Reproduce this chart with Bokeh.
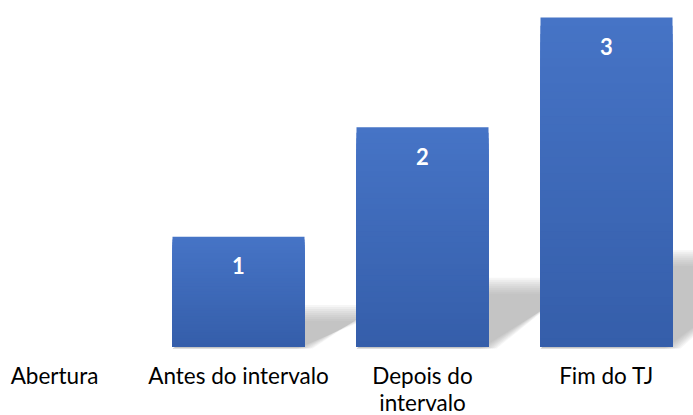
import numpy as np
from bokeh.plotting import figure
from bokeh.core.properties import value
from bokeh.embed import file_html
from bokeh.resources import INLINE

# ---- data ----
categories = ["Abertura", "Antes do intervalo", "Depois do\nintervalo", "Fim do TJ"]
values = [0, 1, 2, 3]
value_labels = ["", "1", "2", "3"]

# ---- geometry (pixels on the canvas) ----
W, H = 693, 415
PX_PER_CAT = 184.0
PX_PER_UNIT = 109.67
X0_PX = 54.0      # canvas x of first category centre
BASE_PX = 346.0   # canvas y of the zero line
BAR_W = 132.0 / PX_PER_CAT

x_start = -X0_PX / PX_PER_CAT
x_end = (W - X0_PX) / PX_PER_CAT
y_end = BASE_PX / PX_PER_UNIT
y_start = -(H - BASE_PX) / PX_PER_UNIT

p = figure(width=W, height=H, x_range=(x_start, x_end), y_range=(y_start, y_end),
           x_axis_type=None, y_axis_type=None, toolbar_location=None,
           output_backend="svg", min_border=0)
p.outline_line_color = None
p.background_fill_color = "white"
p.border_fill_color = "white"

xs = list(range(len(categories)))
bx = [x for x, v in zip(xs, values) if v > 0]
bv = [v for v in values if v > 0]

# ---- blurred perspective shadows ----
def px_x(px):
    return px / PX_PER_CAT

def px_y(px):
    return px / PX_PER_UNIT

layers = np.linspace(-8, 8, 9)
for x, v in zip(bx, bv):
    xr = x + BAR_W / 2
    xl = x - BAR_W / 2
    h_px = v * PX_PER_UNIT
    sh = px_y(0.25 * h_px + 6)
    dx = px_x(44 + 0.2 * h_px)
    for e in layers:
        pxs = [xl, xr + px_x(e), xr + dx + px_x(e), xl + dx]
        pys = [-px_y(2), -px_y(2), sh + px_y(e), sh + px_y(e)]
        p.patch(pxs, pys, fill_color="#a0a0a0", fill_alpha=0.092, line_color=None)

# ---- gradient bars (overdrawn, tallest first, so no seams) ----
top_rgb = np.array([70, 116, 198])
bot_rgb = np.array([53, 94, 170])
N = 40
for k in range(N - 1, -1, -1):
    f1 = (k + 1) / N
    t = (k + 0.5) / N
    c = bot_rgb + (top_rgb - bot_rgb) * t
    col = "#%02x%02x%02x" % tuple(int(round(q)) for q in c)
    p.vbar(x=bx, width=BAR_W, bottom=0, top=[v * f1 for v in bv],
           fill_color=col, line_color=None)

# ---- value labels ----
lx = [x for x, v in zip(xs, values) if v > 0]
lt = [t for t, v in zip(value_labels, values) if v > 0]
p.text(x=lx, y=bv, text=lt, text_align="center", text_baseline="middle",
       y_offset=29, text_color="white", text_font=value("Lato"),
       text_font_style="bold", text_font_size="22px")

# ---- category labels ----
p.text(x=xs, y=[0] * len(xs), text=categories, text_align="center",
       text_baseline="top", y_offset=15, text_color="#000000",
       text_font=value("Lato"), text_font_size="22.5px", text_line_height=1.02)

open("out.html", "w").write(file_html(p, INLINE))
